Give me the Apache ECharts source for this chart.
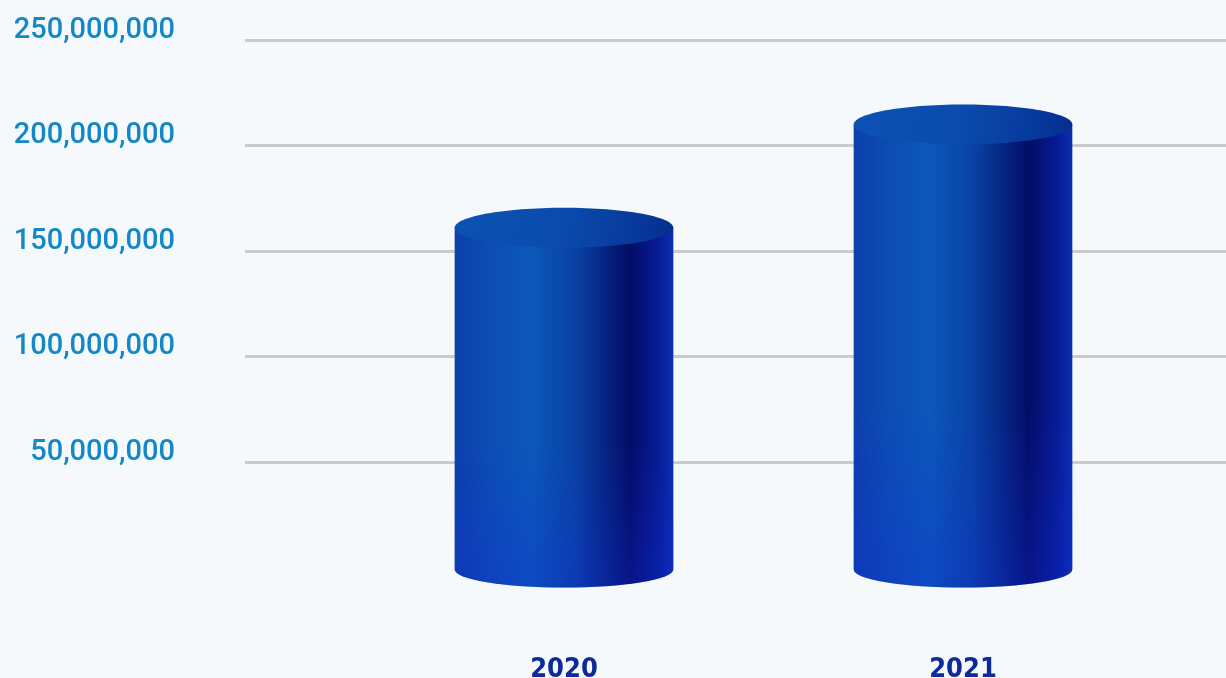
<!DOCTYPE html>
<html><head><meta charset="utf-8">
<script src="https://cdn.jsdelivr.net/npm/echarts@6/dist/echarts.min.js"></script>
<style>html,body{margin:0;padding:0;background:#f5f9fc;}#c{width:1226px;height:678px;}</style>
</head><body><div id="c"></div>
<script>
const categories = ['2020', '2021'];
const values = [161000000, 210000000];
const yTicks = [0, 50000000, 100000000, 150000000, 200000000, 250000000];

const chart = echarts.init(document.getElementById('c'));
const yMin = yTicks[0], yMax = yTicks[yTicks.length - 1], yStep = yTicks[1] - yTicks[0];

function bodyGrad() {
  return new echarts.graphic.LinearGradient(0, 0, 1, 0, [
    {offset: 0, color: '#0d3fab'},
    {offset: 0.15, color: '#0c4cb4'},
    {offset: 0.35, color: '#0b58ba'},
    {offset: 0.55, color: '#0942a4'},
    {offset: 0.8, color: '#030d66'},
    {offset: 0.93, color: '#061c94'},
    {offset: 1, color: '#0b2eb0'}
  ]);
}
function renderItem(params, api) {
  const i = api.value(0);
  const top = api.coord([i, api.value(1)]);
  const base = api.coord([i, 0]);
  const w = api.size([1, 0])[0] * 0.548;
  const cx = top[0], l = cx - w / 2, r = cx + w / 2;
  const ryT = 20, ryB = 18;
  const rx = w / 2;
  const by = base[1] + 2;
  const bodyPath = 'M' + l + ' ' + top[1] + ' L' + l + ' ' + by +
    ' A' + rx + ' ' + ryB + ' 0 0 0 ' + r + ' ' + by +
    ' L' + r + ' ' + top[1] + ' Z';
  return {
    type: 'group',
    children: [
      {type: 'path', shape: {pathData: bodyPath}, style: {fill: bodyGrad()}},
      {type: 'path', shape: {pathData: bodyPath}, style: {fill: new echarts.graphic.LinearGradient(0, 0, 0, 1, [
          {offset: 0, color: 'rgba(20,40,220,0)'}, {offset: 0.6, color: 'rgba(20,40,220,0)'}, {offset: 1, color: 'rgba(20,40,220,0.3)'}])}},
      {type: 'ellipse', shape: {cx: cx, cy: top[1], rx: rx, ry: ryT},
        style: {fill: new echarts.graphic.LinearGradient(0, 0, 1, 1, [
          {offset: 0, color: '#0c52b4'}, {offset: 0.5, color: '#0a4bac'}, {offset: 0.85, color: '#07379a'}, {offset: 1, color: '#062c8c'}])}}
    ]
  };
}

chart.setOption({
  backgroundColor: '#f5f9fc',
  animation: false,
  grid: [
    {left: 245, right: 0, top: 40, bottom: 110.5, containLabel: false, outerBoundsMode: 'none'},
    {left: 364.5, right: 63.5, top: 40, bottom: 110.5, containLabel: false, outerBoundsMode: 'none'}
  ],
  xAxis: [
    {type: 'category', gridIndex: 0, data: categories, show: false},
    {type: 'category', gridIndex: 1, data: categories,
      axisLine: {show: false}, axisTick: {show: false},
      axisLabel: {margin: 89, color: '#0c2a9c', fontFamily: '"DejaVu Sans Condensed", sans-serif',
        fontWeight: 'bold', fontSize: 27}}
  ],
  yAxis: [
    {type: 'value', gridIndex: 0, min: yMin, max: yMax, interval: yStep,
      axisLine: {show: false}, axisTick: {show: false},
      splitLine: {show: true, showMinLine: false, lineStyle: {color: '#cbcbcb', width: 3}},
      axisLabel: {margin: 70, color: '#1488c7', fontFamily: 'Roboto, sans-serif', fontWeight: 500, fontSize: 29,
        verticalAlign: 'bottom', lineHeight: 19,
        formatter: v => v === 0 ? '' : v.toLocaleString('en-US')}},
    {type: 'value', gridIndex: 1, min: yMin, max: yMax, interval: yStep, show: false, splitLine: {show: false}}
  ],
  series: [{
    type: 'custom', xAxisIndex: 1, yAxisIndex: 1,
    data: categories.map((c, i) => [i, values[i]]),
    renderItem: renderItem
  }]
});
</script></body></html>
